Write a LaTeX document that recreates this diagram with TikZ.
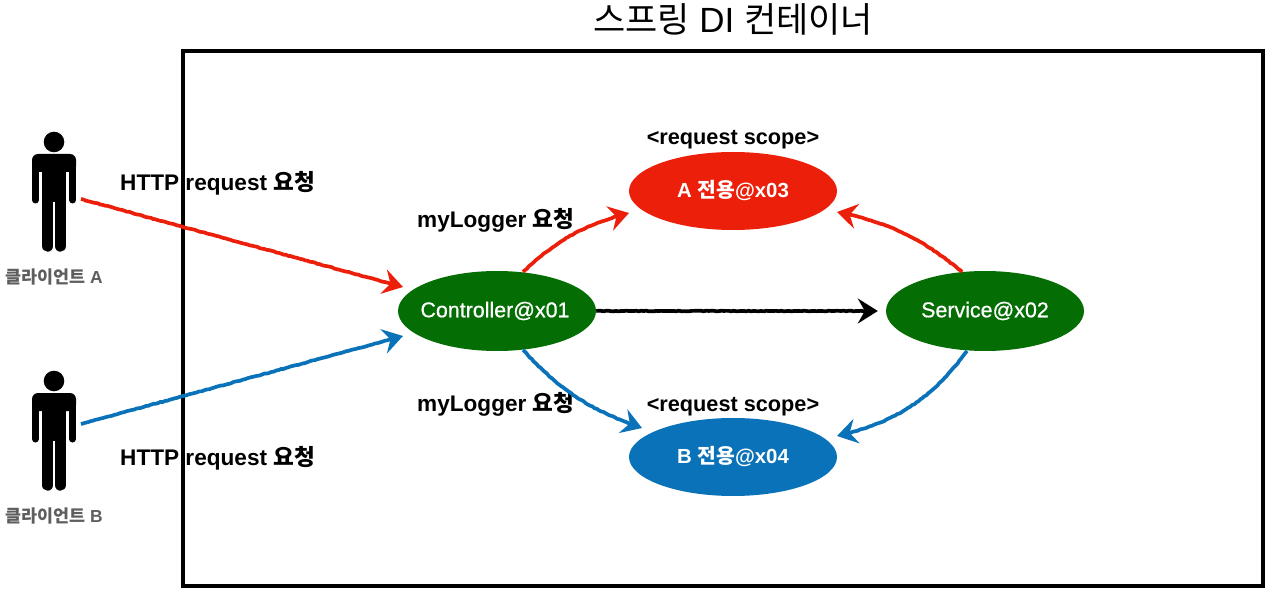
\documentclass[tikz,border=0pt]{standalone}
\usepackage{fontspec}
\setmainfont{Liberation Sans}
\newfontfamily\krf{Noto Sans CJK KR}
\newfontfamily\semif[FakeBold=0.7]{Liberation Sans}
\newcommand{\ko}[1]{{\krf #1}}
\usetikzlibrary{arrows.meta,decorations.pathmorphing,shapes.geometric}
\definecolor{cred}{HTML}{EB1F0A}
\definecolor{cgreen}{HTML}{046D04}
\definecolor{cblue}{HTML}{0A72B8}
\definecolor{cgray}{HTML}{5E5E5E}
\newcommand{\ctext}[1]{\raisebox{-1pt}{\makebox[0pt][c]{#1}}}
\tikzset{
  x=1pt,y=-1pt,
  bubble/.style={ellipse,inner sep=0pt,minimum width=#1,text=white,font=\fontsize{20.4}{24}\selectfont\bfseries},
  lab/.style={inner sep=0pt,font=\fontsize{22.6}{26}\selectfont\bfseries},
  scopelab/.style={inner sep=0pt,font=\fontsize{21.7}{26}\selectfont\bfseries},
  who/.style={inner sep=0pt,text=cgray,font=\fontsize{17.4}{20}\selectfont\bfseries},
  sketch/.style={line width=3.7pt,decorate,decoration={random steps,segment length=2.5pt,amplitude=.35pt,post length=12pt},
    -{Stealth[length=20pt,width=25pt,inset=7pt]}},
  person/.pic={
    \fill (0,0) circle[radius=10.3];
    \fill[rounded corners=6pt] (-22,30) -- (-22,12) -- (22,12) -- (22,30) -- cycle;
    \fill (-12,20) rectangle (12,60);
    \draw[line width=7pt,line cap=round] (-18.6,20) -- (-18.6,58) (18.6,20) -- (18.6,58);
    \draw[line width=11.4pt,line cap=round] (-6.3,40) -- (-6.3,104) (6.3,40) -- (6.3,104);
  }
}
\begin{document}
\begin{tikzpicture}
\useasboundingbox (0,0) rectangle (1274,596);
\draw[line width=3.6pt] (183,51) rectangle (1263,586);
\node[inner sep=0pt,font=\fontsize{35}{42}\selectfont] (title) at (733,19) {\ko{스프링} DI \ko{컨테이너}};

\pic at (54,142) {person};
\pic at (54,381) {person};
\coordinate (pa) at (81,199);
\coordinate (pb) at (81,424);
\node[who,anchor=west] (wa) at (5,277) {\ko{클라이언트} A};
\node[who,anchor=west] (wb) at (5,516) {\ko{클라이언트} B};

\node[bubble=198pt,minimum height=80pt,fill=cgreen,font=\fontsize{21.4}{24}\selectfont\semif] (ctrl) at (497,311) {\ctext{\hspace{-4pt}Controller@x01}};
\node[bubble=198pt,minimum height=80pt,fill=cgreen,font=\fontsize{21.4}{24}\selectfont\semif] (svc) at (985,311) {\ctext{Service@x02}};
\node[bubble=208pt,minimum height=78pt,fill=cred] (a) at (733,191) {\ctext{A \ko{전용}@x03}};
\node[bubble=208pt,minimum height=78pt,fill=cblue] (b) at (733,457) {\ctext{B \ko{전용}@x04}};

\node[scopelab] (ra) at (733,140) {<request scope>};
\node[scopelab] (rb) at (733,407) {<request scope>};
\node[lab,anchor=west] (ha) at (120,183) {HTTP request \ko{요청}};
\node[lab,anchor=west] (hb) at (120,458) {HTTP request \ko{요청}};
\node[lab,anchor=west] (ma) at (417,220) {myLogger \ko{요청}};
\node[lab,anchor=west] (mb) at (417,404) {myLogger \ko{요청}};

\draw[sketch,cred] (pa) -- ([shift={(-94,-24)}]ctrl.center);
\draw[sketch,cblue] (pb) -- ([shift={(-94,25)}]ctrl.center);
\draw[sketch,black] (ctrl.east) -- ([xshift=-8pt]svc.west);
\draw[sketch,cred] ([shift={(26,-39)}]ctrl.center) to[bend left=14] ([shift={(-104,22)}]a.center);
\draw[sketch,cred] ([shift={(-23,-39)}]svc.center) to[bend right=14] ([shift={(104,21)}]a.center);
\draw[sketch,cblue] ([shift={(26,39)}]ctrl.center) to[bend right=14] ([shift={(-91,-29)}]b.center);
\draw[sketch,cblue] ([shift={(-18,40)}]svc.center) to[bend left=20] ([shift={(104,-21)}]b.center);
\end{tikzpicture}
\end{document}
